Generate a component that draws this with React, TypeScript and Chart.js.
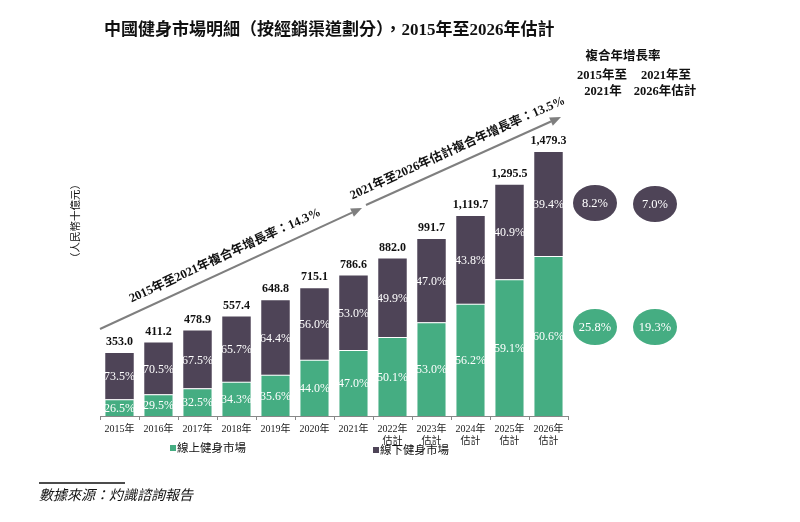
import React, { useEffect, useRef } from "react";
import { Chart, registerables } from "chart.js";
Chart.register(...registerables);

const categories: (string | string[])[] = [
  "2015年", "2016年", "2017年", "2018年", "2019年", "2020年", "2021年",
  ["2022年", "估計"], ["2023年", "估計"], ["2024年", "估計"], ["2025年", "估計"], ["2026年", "估計"],
];
const totals = [353.0, 411.2, 478.9, 557.4, 648.8, 715.1, 786.6, 882.0, 991.7, 1119.7, 1295.5, 1479.3];
const totalLabels = ["353.0", "411.2", "478.9", "557.4", "648.8", "715.1", "786.6", "882.0", "991.7", "1,119.7", "1,295.5", "1,479.3"];
const onlinePct = [26.5, 29.5, 32.5, 34.3, 35.6, 44.0, 47.0, 50.1, 53.0, 56.2, 59.1, 60.6];
const offlinePct = [73.5, 70.5, 67.5, 65.7, 64.4, 56.0, 53.0, 49.9, 47.0, 43.8, 40.9, 39.4];
const cagrOffline = ["8.2%", "7.0%"];
const cagrOnline = ["25.8%", "19.3%"];
const seriesNames = ["線上健身市場", "線下健身市場"];

const ONLINE = "#45ad82";
const OFFLINE = "#4e4457";
const FAM = '"Liberation Serif", "Noto Sans CJK TC", serif';

function arrow(ctx: CanvasRenderingContext2D, x1: number, y1: number, x2: number, y2: number) {
  const a = Math.atan2(y2 - y1, x2 - x1);
  const hl = 11, hw = 4.5;
  ctx.save();
  ctx.strokeStyle = "#7f7f7f";
  ctx.fillStyle = "#7f7f7f";
  ctx.lineWidth = 2;
  ctx.beginPath();
  ctx.moveTo(x1, y1);
  ctx.lineTo(x2 - hl * Math.cos(a), y2 - hl * Math.sin(a));
  ctx.stroke();
  ctx.beginPath();
  ctx.moveTo(x2, y2);
  ctx.lineTo(x2 - hl * Math.cos(a) + hw * Math.sin(a), y2 - hl * Math.sin(a) - hw * Math.cos(a));
  ctx.lineTo(x2 - hl * Math.cos(a) - hw * Math.sin(a), y2 - hl * Math.sin(a) + hw * Math.cos(a));
  ctx.closePath();
  ctx.fill();
  ctx.restore();
}

function rotText(ctx: CanvasRenderingContext2D, text: string, x1: number, y1: number, x2: number, y2: number, off: number) {
  const a = Math.atan2(y2 - y1, x2 - x1);
  const mx = (x1 + x2) / 2 + off * Math.sin(a);
  const my = (y1 + y2) / 2 - off * Math.cos(a);
  ctx.save();
  ctx.translate(mx, my);
  ctx.rotate(a);
  ctx.font = `bold 12.5px ${FAM}`;
  ctx.fillStyle = "#111";
  ctx.textAlign = "center";
  ctx.textBaseline = "middle";
  ctx.fillText(text, 0, 0);
  ctx.restore();
}

function ellipse(ctx: CanvasRenderingContext2D, cx: number, cy: number, color: string, text: string) {
  ctx.save();
  ctx.fillStyle = color;
  ctx.beginPath();
  ctx.ellipse(cx, cy, 22, 18, 0, 0, Math.PI * 2);
  ctx.fill();
  ctx.fillStyle = "#fff";
  ctx.font = `12.5px ${FAM}`;
  ctx.textAlign = "center";
  ctx.textBaseline = "middle";
  ctx.fillText(text, cx, cy + 1);
  ctx.restore();
}

const annotations = {
  id: "annotations",
  afterDatasetsDraw(chart: any) {
    const ctx: CanvasRenderingContext2D = chart.ctx;
    ctx.save();
    // percentages
    ctx.font = `12px ${FAM}`;
    ctx.fillStyle = "#fff";
    ctx.textAlign = "center";
    ctx.textBaseline = "middle";
    [onlinePct, offlinePct].forEach((pcts, di) => {
      const meta = chart.getDatasetMeta(di);
      meta.data.forEach((bar: any, i: number) => {
        ctx.fillText(pcts[i].toFixed(1) + "%", bar.x, (bar.y + bar.base) / 2 + 1);
      });
    });
    // totals
    ctx.font = `bold 12px ${FAM}`;
    ctx.fillStyle = "#111";
    const top = chart.getDatasetMeta(1);
    top.data.forEach((bar: any, i: number) => {
      ctx.fillText(totalLabels[i], bar.x, bar.y - 11);
    });
    ctx.restore();
  },
  afterDraw(chart: any) {
    const ctx: CanvasRenderingContext2D = chart.ctx;
    ctx.save();
    // title
    ctx.font = `bold 17px ${FAM}`;
    ctx.fillStyle = "#111";
    ctx.textAlign = "left";
    ctx.textBaseline = "middle";
    ctx.fillText("中國健身市場明細（按經銷渠道劃分），2015年至2026年估計", 104, 31);

    // y label
    ctx.save();
    ctx.translate(76, 221);
    ctx.rotate(-Math.PI / 2);
    ctx.font = `10.5px ${FAM}`;
    ctx.textAlign = "center";
    ctx.fillText("（人民幣十億元）", 0, 0);
    ctx.restore();

    // arrows
    arrow(ctx, 100, 329, 362, 208);
    arrow(ctx, 366, 205, 561, 117);
    rotText(ctx, "2015年至2021年複合年增長率：14.3%", 100, 329, 362, 208, 14);
    rotText(ctx, "2021年至2026年估計複合年增長率：13.5%", 366, 205, 561, 117, 14);

    // CAGR header
    ctx.font = `bold 12.5px ${FAM}`;
    ctx.fillStyle = "#111";
    ctx.textAlign = "center";
    ctx.fillText("複合年增長率", 623, 57);
    ctx.fillText("2015年至", 602, 76);
    ctx.fillText("2021年至", 666, 76);
    ctx.fillText("2021年", 603, 92);
    ctx.fillText("2026年估計", 665, 92);

    ellipse(ctx, 595, 203, OFFLINE, cagrOffline[0]);
    ellipse(ctx, 655, 204, OFFLINE, cagrOffline[1]);
    ellipse(ctx, 595, 327, ONLINE, cagrOnline[0]);
    ellipse(ctx, 655, 327, ONLINE, cagrOnline[1]);

    // legend
    ctx.font = `11.5px ${FAM}`;
    ctx.textAlign = "left";
    ctx.fillStyle = ONLINE;
    ctx.fillRect(170, 445, 6, 6);
    ctx.fillStyle = "#111";
    ctx.fillText(seriesNames[0], 177, 449);
    ctx.fillStyle = OFFLINE;
    ctx.fillRect(373, 447, 6, 6);
    ctx.fillStyle = "#111";
    ctx.fillText(seriesNames[1], 380, 451);

    // source
    ctx.strokeStyle = "#111";
    ctx.lineWidth = 1.5;
    ctx.beginPath();
    ctx.moveTo(39, 483);
    ctx.lineTo(125, 483);
    ctx.stroke();
    ctx.font = `italic 14px ${FAM}`;
    ctx.fillText("數據來源：灼識諮詢報告", 39, 496);
    ctx.restore();
  },
};

export default function App() {
  const ref = useRef<HTMLCanvasElement | null>(null);
  useEffect(() => {
    if (!ref.current) return;
    const chart = new Chart(ref.current, {
      type: "bar",
      data: {
        labels: categories as any,
        datasets: [
          {
            label: seriesNames[0],
            data: totals.map((t, i) => (t * onlinePct[i]) / 100),
            backgroundColor: ONLINE,
            borderColor: "#ffffff",
            borderWidth: { top: 1, left: 0, right: 0, bottom: 0 } as any,
            borderSkipped: false,
            barPercentage: 0.73,
            categoryPercentage: 1,
          },
          {
            label: seriesNames[1],
            data: totals.map((t, i) => (t * offlinePct[i]) / 100),
            backgroundColor: OFFLINE,
            barPercentage: 0.73,
            categoryPercentage: 1,
          },
        ],
      },
      options: {
        animation: false,
        responsive: true,
        maintainAspectRatio: false,
        layout: { padding: { left: 100, right: 232, top: 100, bottom: 76 } },
        plugins: { legend: { display: false }, title: { display: false }, tooltip: { enabled: false } },
        scales: {
          x: {
            stacked: true,
            offset: true,
            grid: { display: true, drawOnChartArea: false, drawTicks: true, tickLength: 4, color: "#888", offset: true },
            border: { display: true, color: "#888", width: 1 },
            ticks: { color: "#222", font: { family: FAM, size: 10, lineHeight: 1.25 }, padding: 3, maxRotation: 0, autoSkip: false },
            afterFit: (s: any) => { s.height = 30; },
          },
          y: { stacked: true, display: false, min: 0, max: 1770 },
        },
      },
      plugins: [annotations],
    });
    return () => chart.destroy();
  }, []);
  return (
    <div style={{ position: "fixed", left: 0, top: 0, width: 800, height: 522, background: "#fff" }}>
      <canvas ref={ref} />
    </div>
  );
}
